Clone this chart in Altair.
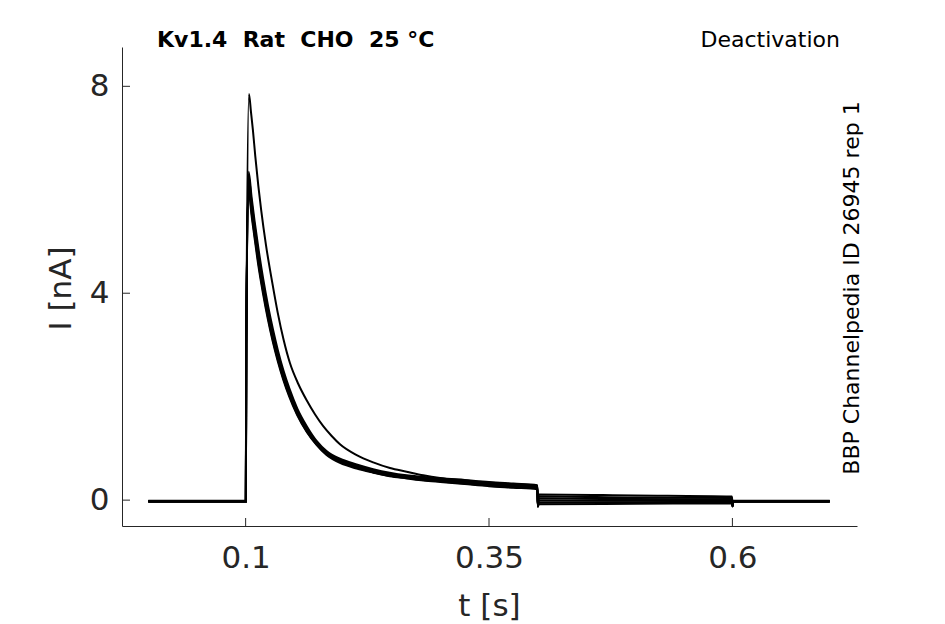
import altair as alt
import pandas as pd

# ---- data (time in s, current in nA) ----
trace_names = ["A", "B", "C", "D", "E", "F"]

t_A = [0.0, 0.1002, 0.1008, 0.1034, 0.1055, 0.1075, 0.1099, 0.1130, 0.1160, 0.1209,
       0.1275, 0.1330, 0.1390, 0.1455, 0.1540, 0.1627, 0.1712, 0.1797, 0.1884, 0.1969,
       0.2141, 0.2311, 0.2483, 0.2654, 0.2825, 0.2997, 0.3250, 0.3500, 0.3750, 0.3996,
       0.4002, 0.4010, 0.5000, 0.5996, 0.6002, 0.6010, 0.7000]
i_A = [-0.01, -0.01, 3.40, 7.85, 7.50, 7.15, 6.65, 6.08, 5.60, 4.93,
       4.19, 3.62, 3.10, 2.65, 2.25, 1.93, 1.66, 1.43, 1.24, 1.08,
       0.87, 0.73, 0.62, 0.55, 0.48, 0.43, 0.39, 0.35, 0.32, 0.29,
       -0.10, 0.11, 0.09, 0.07, -0.12, -0.01, -0.01]

t_B = [0.0, 0.1002, 0.1007, 0.1031, 0.1061, 0.1091, 0.1131, 0.1181, 0.1231, 0.1281,
       0.1331, 0.1391, 0.1451, 0.1531, 0.1631, 0.1731, 0.1831, 0.1969, 0.2140, 0.2310,
       0.2480, 0.2654, 0.2825, 0.3000, 0.3250, 0.3500, 0.3750, 0.3996, 0.4002, 0.4010,
       0.5000, 0.5996, 0.6002, 0.6010, 0.7000]
i_B = [-0.02, -0.02, 3.00, 6.35, 5.86, 5.41, 4.87, 4.27, 3.75, 3.30,
       2.90, 2.49, 2.15, 1.77, 1.42, 1.14, 0.95, 0.80, 0.69, 0.60,
       0.53, 0.48, 0.45, 0.42, 0.38, 0.34, 0.31, 0.28, -0.11, 0.07,
       0.05, 0.04, -0.12, -0.02, -0.02]

t_E = [0.0, 0.1002, 0.1007, 0.1030, 0.1060, 0.1090, 0.1130, 0.1180, 0.1230, 0.1280,
       0.1330, 0.1390, 0.1450, 0.1530, 0.1630, 0.1730, 0.1830, 0.1969, 0.2140, 0.2310,
       0.2480, 0.2654, 0.2825, 0.3000, 0.3250, 0.3500, 0.3750, 0.3996, 0.4002, 0.4010,
       0.5000, 0.5996, 0.6002, 0.6010, 0.7000]
i_E = [-0.02, -0.02, 3.00, 6.28, 5.78, 5.33, 4.78, 4.18, 3.67, 3.23,
       2.84, 2.44, 2.10, 1.73, 1.38, 1.10, 0.93, 0.78, 0.67, 0.58,
       0.51, 0.46, 0.43, 0.40, 0.36, 0.32, 0.29, 0.26, -0.12, -0.01,
       -0.01, -0.01, -0.12, -0.03, -0.03]

t_C = [0.0, 0.1002, 0.1007, 0.1030, 0.1059, 0.1089, 0.1129, 0.1179, 0.1229, 0.1279,
       0.1329, 0.1389, 0.1449, 0.1529, 0.1629, 0.1729, 0.1829, 0.1969, 0.2140, 0.2310,
       0.2480, 0.2654, 0.2825, 0.3000, 0.3250, 0.3500, 0.3750, 0.3996, 0.4002, 0.4010,
       0.5000, 0.5996, 0.6002, 0.6010, 0.7000]
i_C = [-0.02, -0.02, 3.00, 6.20, 5.70, 5.25, 4.70, 4.10, 3.60, 3.16,
       2.78, 2.39, 2.06, 1.70, 1.35, 1.09, 0.91, 0.76, 0.65, 0.56,
       0.49, 0.44, 0.41, 0.38, 0.34, 0.30, 0.27, 0.24, -0.12, 0.03,
       0.02, 0.01, -0.12, -0.02, -0.02]

t_F = [0.0, 0.1002, 0.1006, 0.1029, 0.1058, 0.1088, 0.1128, 0.1178, 0.1228, 0.1278,
       0.1328, 0.1388, 0.1448, 0.1528, 0.1628, 0.1728, 0.1828, 0.1969, 0.2140, 0.2310,
       0.2480, 0.2654, 0.2825, 0.3000, 0.3250, 0.3500, 0.3750, 0.3996, 0.4002, 0.4010,
       0.5000, 0.5996, 0.6002, 0.6010, 0.7000]
i_F = [-0.03, -0.03, 3.00, 6.12, 5.62, 5.18, 4.63, 4.05, 3.55, 3.11,
       2.74, 2.35, 2.03, 1.67, 1.33, 1.08, 0.89, 0.74, 0.63, 0.54,
       0.47, 0.43, 0.39, 0.36, 0.32, 0.28, 0.25, 0.22, -0.13, -0.05,
       -0.04, -0.035, -0.12, -0.03, -0.03]

t_D = [0.0, 0.1002, 0.1006, 0.1028, 0.1058, 0.1088, 0.1128, 0.1178, 0.1228, 0.1278,
       0.1328, 0.1388, 0.1448, 0.1528, 0.1628, 0.1728, 0.1828, 0.1969, 0.2140, 0.2310,
       0.2480, 0.2654, 0.2825, 0.3000, 0.3250, 0.3500, 0.3750, 0.3996, 0.4002, 0.4010,
       0.5000, 0.5996, 0.6002, 0.6010, 0.7000]
i_D = [-0.03, -0.03, 3.00, 6.05, 5.55, 5.12, 4.57, 4.00, 3.50, 3.07,
       2.70, 2.32, 2.00, 1.65, 1.32, 1.07, 0.88, 0.72, 0.61, 0.53,
       0.46, 0.42, 0.38, 0.35, 0.31, 0.27, 0.24, 0.21, -0.13, -0.08,
       -0.07, -0.06, -0.12, -0.02, -0.02]

x_ticks = [0.1, 0.35, 0.6]
y_ticks = [0, 4, 8]
x_domain = [-0.027, 0.728]
y_domain = [-0.5, 8.76]

title_left = "Kv1.4\u00a0\u00a0Rat\u00a0\u00a0CHO\u00a0\u00a025\u00a0°C"
title_right = "Deactivation"
side_label = "BBP Channelpedia ID 26945 rep 1"
x_title = "t [s]"
y_title = "I [nA]"

# ---- build table ----
times = {"A": t_A, "B": t_B, "C": t_C, "D": t_D, "E": t_E, "F": t_F}
currents = {"A": i_A, "B": i_B, "C": i_C, "D": i_D, "E": i_E, "F": i_F}
rows = []
for name in trace_names:
    for t, c in zip(times[name], currents[name]):
        rows.append({"trace": name, "t": t, "I": c})
df = pd.DataFrame(rows)

FONT = "DejaVu Sans"
AX = "#262626"
W, H = 735, 479

xscale = alt.Scale(domain=x_domain, nice=False, zero=False)
yscale = alt.Scale(domain=y_domain, nice=False, zero=False)

xaxis = alt.Axis(values=x_ticks, format=".2~f", ticks=False, grid=False,
                 domainColor=AX, domainWidth=1, labelColor=AX, labelFont=FONT,
                 labelFontSize=31, labelPadding=17, labelFlush=False,
                 title=x_title, titleFont=FONT, titleFontSize=31,
                 titleFontWeight="normal", titleColor=AX,
                 titleX=367, titleY=89, titleAlign="center",
                 titleBaseline="alphabetic")
yaxis = alt.Axis(values=y_ticks, format="d", ticks=False, grid=False,
                 domainColor=AX, domainWidth=1, labelColor=AX, labelFont=FONT,
                 labelFontSize=31, labelPadding=13, labelFlush=False,
                 title=y_title, titleFont=FONT, titleFontSize=31,
                 titleFontWeight="normal", titleColor=AX,
                 titleX=-52, titleY=241, titleAngle=270, titleAlign="center",
                 titleBaseline="alphabetic")

lines = alt.Chart(df).mark_line(color="black", strokeWidth=2,
                                interpolate="monotone").encode(
    x=alt.X("t:Q", scale=xscale, axis=xaxis),
    y=alt.Y("I:Q", scale=yscale, axis=yaxis),
    detail="trace:N",
)

xt = alt.Chart(pd.DataFrame({"t": x_ticks})).mark_rule(color=AX, strokeWidth=1).encode(
    x=alt.X("t:Q", scale=xscale, axis=xaxis),
    y=alt.value(H), y2=alt.value(H - 8),
)
yt = alt.Chart(pd.DataFrame({"I": y_ticks})).mark_rule(color=AX, strokeWidth=1).encode(
    y=alt.Y("I:Q", scale=yscale, axis=yaxis),
    x=alt.value(0), x2=alt.value(8),
)

t1 = alt.Chart(pd.DataFrame({"s": [title_left]})).mark_text(
    font=FONT, fontSize=22, fontWeight="bold", color="black",
    align="left", baseline="alphabetic").encode(
    text="s:N", x=alt.value(35), y=alt.value(0))
t2 = alt.Chart(pd.DataFrame({"s": [title_right]})).mark_text(
    font=FONT, fontSize=22, color="black",
    align="right", baseline="alphabetic").encode(
    text="s:N", x=alt.value(718), y=alt.value(0))
t3 = alt.Chart(pd.DataFrame({"s": [side_label]})).mark_text(
    font=FONT, fontSize=22, color="black", angle=270,
    align="center", baseline="alphabetic").encode(
    text="s:N", x=alt.value(737), y=alt.value(241))

chart = alt.layer(lines, xt, yt, t1, t2, t3).properties(
    width=W, height=H,
    padding={"left": 114, "top": 39, "right": 70, "bottom": 100},
    autosize=alt.AutoSizeParams(type="none"),
).configure_view(stroke=None)

chart.save("out.html", embed_options={"renderer": "svg", "actions": False})
